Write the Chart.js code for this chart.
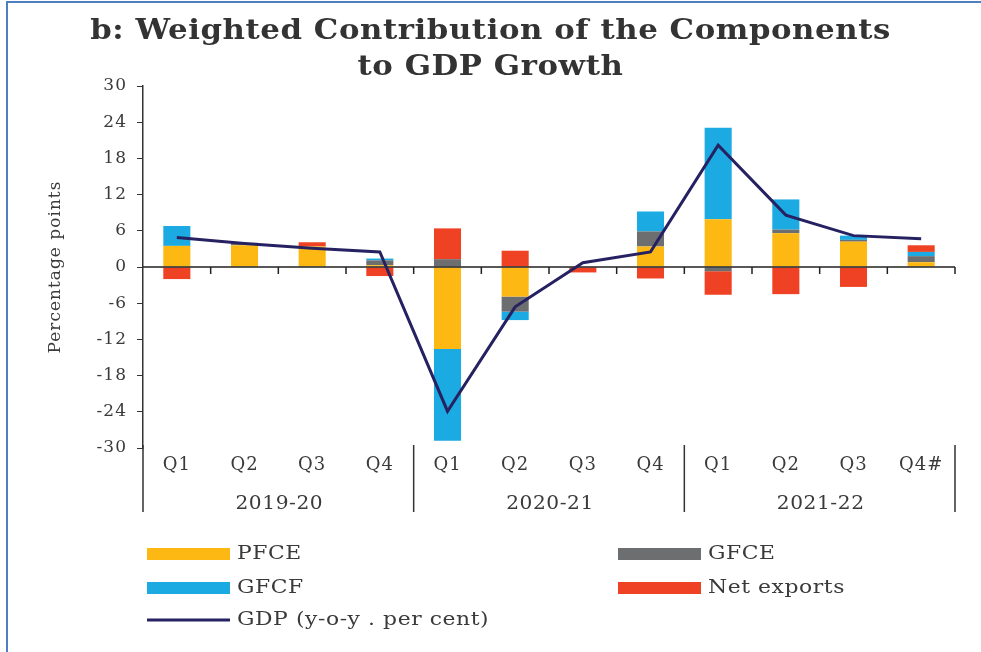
<!DOCTYPE html>
<html>
<head>
<meta charset="utf-8">
<script src="https://cdn.jsdelivr.net/npm/chart.js@4"></script>
<style>
  body { margin: 0; background: #fff; }
  canvas { display: block; }
</style>
</head>
<body>
<canvas id="gdpChart" width="981" height="652"></canvas>
<script>
const quarters = ["Q1", "Q2", "Q3", "Q4", "Q1", "Q2", "Q3", "Q4", "Q1", "Q2", "Q3", "Q4#"];
const years = ["2019-20", "2020-21", "2021-22"];
const yTicks = [30, 24, 18, 12, 6, 0, -6, -12, -18, -24, -30];

const pfce = [3.5, 3.6, 3.4, 0.3, -13.6, -4.9, 0, 3.4, 7.9, 5.6, 4.2, 0.8];
const gfce = [0, 0.4, 0, 0.8, 1.3, -2.5, 0, 2.5, -0.7, 0.6, 0.3, 1.0];
const gfcf = [3.3, 0, 0, 0.3, -15.2, -1.4, 0, 3.3, 15.2, 5.0, 0.7, 0.7];
const netExports = [-2.0, 0, 0.7, -1.5, 5.1, 2.7, -0.9, -1.9, -3.9, -4.5, -3.3, 1.1];
const gdp = [4.9, 3.9, 3.1, 2.5, -23.9, -6.6, 0.7, 2.5, 20.2, 8.6, 5.2, 4.7];

const serif = "'DejaVu Serif', serif";
const textColor = "#3a3a3a";

// legend slots: [dataset index, column, row]
const legendSlots = [[1, 0, 0], [2, 1, 0], [3, 0, 1], [4, 1, 1], [0, 0, 2]];

// the original lettering is wider than any installed serif, so stretch it
function wideText(ctx, text, x, y, sx) {
  ctx.save();
  ctx.translate(x, y);
  ctx.scale(sx, 1);
  ctx.fillText(text, 0, 0);
  ctx.restore();
}

const decorations = {
  id: "decorations",
  beforeDraw(chart) {
    const ctx = chart.ctx;
    ctx.save();
    ctx.fillStyle = "#fff";
    ctx.fillRect(0, 0, chart.width, chart.height);
    ctx.strokeStyle = "#4f7ec2";
    ctx.lineWidth = 2;
    ctx.beginPath();
    ctx.moveTo(7, chart.height);
    ctx.lineTo(7, 2);
    ctx.lineTo(chart.width, 2);
    ctx.stroke();
    ctx.restore();
    ctx.letterSpacing = "1px";
  },
  beforeDatasetDraw(chart, args) {
    if (args.meta.type !== "line") return;
    const ctx = chart.ctx;
    const xs = chart.scales.x;
    const y0 = chart.scales.y.getPixelForValue(0);
    const area = chart.chartArea;
    const half = (xs.getPixelForValue(1) - xs.getPixelForValue(0)) / 2;
    ctx.save();
    ctx.strokeStyle = "#222";
    ctx.lineWidth = 1.5;
    ctx.beginPath();
    ctx.moveTo(area.left, y0);
    ctx.lineTo(area.right, y0);
    for (let i = 0; i < quarters.length; i++) {
      const bx = xs.getPixelForValue(i) + half;
      ctx.moveTo(bx, y0);
      ctx.lineTo(bx, y0 + 7);
    }
    ctx.stroke();
    ctx.restore();
  },
  afterDraw(chart) {
    const ctx = chart.ctx;
    const xs = chart.scales.x;
    const area = chart.chartArea;
    const half = (xs.getPixelForValue(1) - xs.getPixelForValue(0)) / 2;
    ctx.save();

    // year groups
    ctx.strokeStyle = "#333";
    ctx.lineWidth = 1.5;
    ctx.beginPath();
    for (let g = 0; g <= years.length; g++) {
      const bx = g === 0 ? xs.getPixelForValue(0) - half : xs.getPixelForValue(g * 4 - 1) + half;
      ctx.moveTo(bx, area.bottom - 3);
      ctx.lineTo(bx, area.bottom + 64);
    }
    ctx.stroke();
    ctx.fillStyle = textColor;
    ctx.font = "18px " + serif;
    ctx.letterSpacing = "0.5px";
    ctx.textAlign = "center";
    ctx.textBaseline = "middle";
    years.forEach((yr, g) => {
      const cx = (xs.getPixelForValue(g * 4) + xs.getPixelForValue(g * 4 + 3)) / 2;
      wideText(ctx, yr, cx + 1, area.bottom + 56, 1.12);
    });

    // title
    ctx.font = "bold 27px " + serif;
    ctx.letterSpacing = "0.5px";
    ctx.fillStyle = "#333";
    wideText(ctx, "b: Weighted Contribution of the Components", chart.width / 2, 32, 1.14);
    wideText(ctx, "to GDP Growth", chart.width / 2, 68, 1.14);

    // legend
    ctx.font = "19px " + serif;
    ctx.letterSpacing = "0.5px";
    ctx.textAlign = "left";
    const colX = [147, 618];
    const rowY = [area.bottom + 106, area.bottom + 140, area.bottom + 172];
    legendSlots.forEach(([di, col, row]) => {
      const ds = chart.data.datasets[di];
      const lx = colX[col];
      const ly = rowY[row];
      if (ds.type === "line") {
        ctx.strokeStyle = ds.borderColor;
        ctx.lineWidth = 3;
        ctx.beginPath();
        ctx.moveTo(lx, ly);
        ctx.lineTo(lx + 83, ly);
        ctx.stroke();
      } else {
        ctx.fillStyle = ds.backgroundColor;
        ctx.fillRect(lx, ly - 6, 83, 12);
      }
      ctx.fillStyle = textColor;
      wideText(ctx, ds.label, lx + 90, ly, 1.15);
    });
    ctx.restore();
  }
};

new Chart(document.getElementById("gdpChart"), {
  data: {
    labels: quarters,
    datasets: [
      {
        type: "line",
        label: "GDP (y-o-y . per cent)",
        data: gdp,
        borderColor: "#262262",
        borderWidth: 3,
        pointRadius: 0,
        tension: 0,
        order: 0,
      },
      { type: "bar", label: "PFCE", data: pfce, backgroundColor: "#fdb813", stack: "c", order: 1 },
      { type: "bar", label: "GFCE", data: gfce, backgroundColor: "#6d6e70", stack: "c", order: 1 },
      { type: "bar", label: "GFCF", data: gfcf, backgroundColor: "#1caae2", stack: "c", order: 1 },
      { type: "bar", label: "Net exports", data: netExports, backgroundColor: "#ef4123", stack: "c", order: 1 },
    ],
  },
  options: {
    responsive: false,
    animation: false,
    layout: { padding: { top: 86, right: 26, left: 0, bottom: 0 } },
    datasets: { bar: { barPercentage: 0.4, categoryPercentage: 1 } },
    plugins: {
      legend: { display: false },
      tooltip: { enabled: false },
    },
    scales: {
      x: {
        stacked: true,
        grid: { display: false, drawTicks: false },
        border: { display: false },
        ticks: { font: { family: serif, size: 18 }, color: textColor, padding: 7, maxRotation: 0 },
        afterFit: (scale) => { scale.height = 204; },
      },
      y: {
        stacked: true,
        min: -30,
        max: 30,
        afterBuildTicks: (scale) => { scale.ticks = yTicks.map((v) => ({ value: v })); },
        grid: { drawOnChartArea: false, drawTicks: true, tickLength: 6, color: "#333" },
        border: { display: true, color: "#333", width: 1.5 },
        ticks: { font: { family: serif, size: 17 }, color: textColor, padding: 10 },
        title: {
          display: true,
          text: "Percentage points",
          font: { family: serif, size: 17 },
          color: textColor,
          padding: { top: 45, bottom: 0 },
        },
        afterFit: (scale) => { scale.width = 143; },
      },
    },
  },
  plugins: [decorations],
});
</script>
</body>
</html>
